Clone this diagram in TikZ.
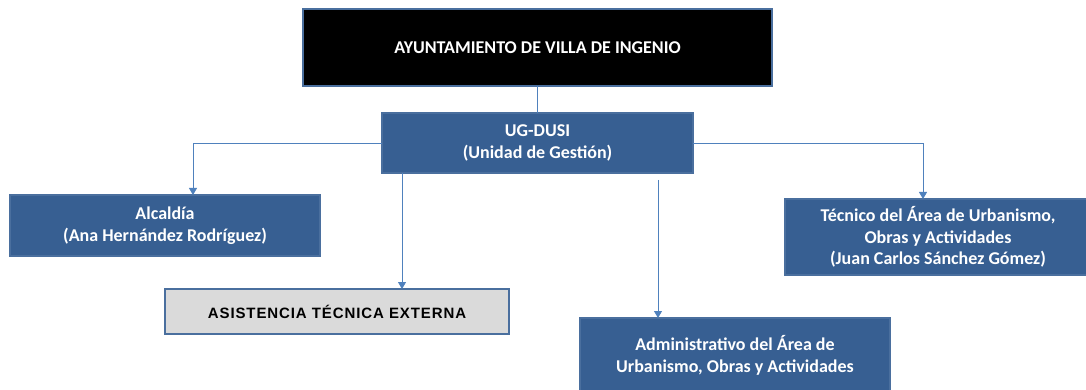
\documentclass[tikz,border=0pt]{standalone}
\usepackage{fontspec}
\setmainfont{Carlito}
\newfontfamily\arialb[LetterSpace=6]{Liberation Sans}
\usetikzlibrary{arrows.meta}
\definecolor{boxfill}{HTML}{375F92}
\definecolor{boxline}{HTML}{4A6F9E}
\definecolor{conn}{HTML}{4F81BD}
\definecolor{greyfill}{HTML}{DADADA}
\tikzset{
  orgbox/.style={draw=boxline, line width=2pt, fill=boxfill, text=white, font=\bfseries\fontsize{18}{21.5}\selectfont, align=center, inner sep=0pt, outer sep=0pt},
  topbox/.style={orgbox, fill=black},
  greybox/.style={draw=boxline, line width=2pt, fill=greyfill, text=black, font=\arialb\bfseries\fontsize{15}{17}\selectfont, inner sep=0pt, outer sep=0pt},
  conn/.style={draw=conn, line width=0.9pt},
  arr/.style={conn, -{Triangle[width=8pt,length=7pt]}}
}
\begin{document}
\begin{tikzpicture}[x=1pt,y=-1pt]
\useasboundingbox (0,0) rectangle (1086,390);
\clip (0,0) rectangle (1086,390);
\node[topbox, minimum width=469, minimum height=77] (top) at (537.5,47.5) {AYUNTAMIENTO DE VILLA DE INGENIO};
\node[orgbox, minimum width=311, minimum height=60] (ug) at (537.5,143) {UG-DUSI\\(Unidad de Gestión)};
\node[orgbox, minimum width=310, minimum height=61] (alc) at (165,225.5) {Alcaldía\\(Ana Hernández Rodríguez)};
\node[greybox, minimum width=344, minimum height=45] (asis) at (337,311.5) {ASISTENCIA TÉCNICA EXTERNA};
\node[orgbox, minimum width=310, minimum height=75] (adm) at (735,355.5) {Administrativo del Área de\\Urbanismo, Obras y Actividades};
\node[orgbox, minimum width=306, minimum height=76] (tec) at (938,237) {Técnico del Área de Urbanismo,\\Obras y Actividades\\(Juan Carlos Sánchez Gómez)};
\coordinate (ugL) at (ug.west);
\coordinate (ugR) at (ug.east);
\coordinate (alcIn) at (193,195);
\coordinate (tecIn) at (923,199);
\coordinate (ugB1) at (402,173);
\coordinate (asisIn) at (402,289);
\coordinate (ugB2) at (658,180);
\coordinate (admIn) at (658,318);
\draw[conn] (top.south) -- (ug.north);
\draw[arr] (ugL) -| (alcIn);
\draw[arr] (ugR) -| (tecIn);
\draw[arr] (ugB1) -- (asisIn);
\draw[arr] (ugB2) -- (admIn);
\end{tikzpicture}
\end{document}
